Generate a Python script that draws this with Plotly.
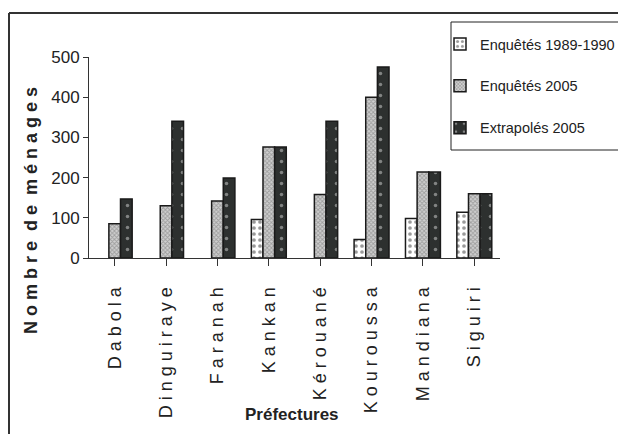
import plotly.graph_objects as go

categories = ["Dabola", "Dinguiraye", "Faranah", "Kankan", "Kérouané", "Kouroussa", "Mandiana", "Siguiri"]
enq_1989 = [None, None, None, 96, None, 46, 98, 114]
enq_2005 = [85, 130, 142, 276, 158, 400, 214, 160]
extra_2005 = [147, 340, 199, 276, 340, 475, 214, 160]
y_ticks = [0, 100, 200, 300, 400, 500]

def spaced(s):
    return " ".join(list(s))

tick_text = [spaced(c) for c in categories]
FONT = "Liberation Sans, Arial"

fig = go.Figure()
fig.add_trace(go.Bar(
    x=list(range(len(categories))), y=enq_1989, name="Enquêtés 1989-1990", legendgroup="a",
    marker=dict(color="white", line=dict(color="#1a1a1a", width=1.5),
                pattern=dict(shape=".", fgcolor="#333333", bgcolor="white", size=6, solidity=0.3)),
))
fig.add_trace(go.Bar(
    x=list(range(len(categories))), y=enq_2005, name="Enquêtés 2005", legendgroup="b",
    marker=dict(color="#a8a8a8", line=dict(color="#1a1a1a", width=1.5),
                pattern=dict(shape="x", fgcolor="#6a6a6a", bgcolor="#d0d0d0", size=3, solidity=0.5)),
))
fig.add_trace(go.Bar(
    x=list(range(len(categories))), y=extra_2005, name="Extrapolés 2005", legendgroup="c",
    marker=dict(color="#2d302f", line=dict(color="#1a1a1a", width=1.5),
                pattern=dict(shape=".", fgcolor="#d8d8d8", bgcolor="#2d302f", size=11, solidity=0.08)),
))

L, R, T, B = 89, 118, 57, 176
W, H = 618, 434
pw, ph = W - L - R, H - T - B

def px(x):
    return (x - L) / pw

def py(y):
    return (H - B - y) / ph

fig.update_layout(
    width=W, height=H,
    margin=dict(l=L, r=R, t=T, b=B, autoexpand=False),
    paper_bgcolor="white", plot_bgcolor="white",
    barmode="group", bargap=0.32, bargroupgap=0,
    font=dict(family=FONT, color="#222222", size=17),
    showlegend=True,
    legend=dict(x=px(440), y=py(28), xanchor="left", yanchor="top",
                borderwidth=0, bgcolor="rgba(0,0,0,0)",
                font=dict(family=FONT, size=14.5, color="#222222"),
                tracegroupgap=20, itemwidth=30),
    xaxis=dict(range=[-0.5, 7.5], tickmode="array", tickvals=list(range(len(categories))),
               ticktext=tick_text, tickangle=-90, showline=True, linecolor="#333333", linewidth=1,
               ticks="outside", tickson="boundaries", ticklen=7, tickcolor="#333333",
               showgrid=False, zeroline=False, ticklabelstandoff=14,
               tickfont=dict(family=FONT, size=18, color="#222222")),
    yaxis=dict(range=[0, 500], tickmode="array", tickvals=y_ticks, showline=True,
               linecolor="#333333", linewidth=1, ticks="outside", ticklen=5, tickcolor="#333333",
               showgrid=False, zeroline=False,
               tickfont=dict(family=FONT, size=17, color="#222222")),
    annotations=[
        dict(text="<b>" + "  ".join(spaced(w) for w in ["Nombre", "de", "ménages"]) + "</b>",
             x=px(31), y=py(211), xref="paper", yref="paper", showarrow=False, textangle=-90,
             xanchor="center", yanchor="middle",
             font=dict(family=FONT, size=18, color="#222222")),
        dict(text="<b>Préfectures</b>", x=px(292), y=py(414), xref="paper", yref="paper",
             xanchor="center", yanchor="middle",
             showarrow=False, font=dict(family=FONT, size=17, color="#222222")),
    ],
    shapes=[
        dict(type="line", xref="paper", yref="paper", x0=px(9), x1=px(9), y0=py(13), y1=py(440),
             line=dict(color="#333333", width=2)),
        dict(type="line", xref="paper", yref="paper", x0=px(9), x1=px(625), y0=py(13), y1=py(13),
             line=dict(color="#333333", width=2)),
        dict(type="rect", xref="paper", yref="paper", x0=px(451), x1=px(630), y0=py(22), y1=py(150),
             line=dict(color="#222222", width=1), fillcolor="rgba(0,0,0,0)", layer="above"),
    ],
)

fig.write_html("out.html", config={"displayModeBar": False},
               post_script="document.body.style.margin='0';")
